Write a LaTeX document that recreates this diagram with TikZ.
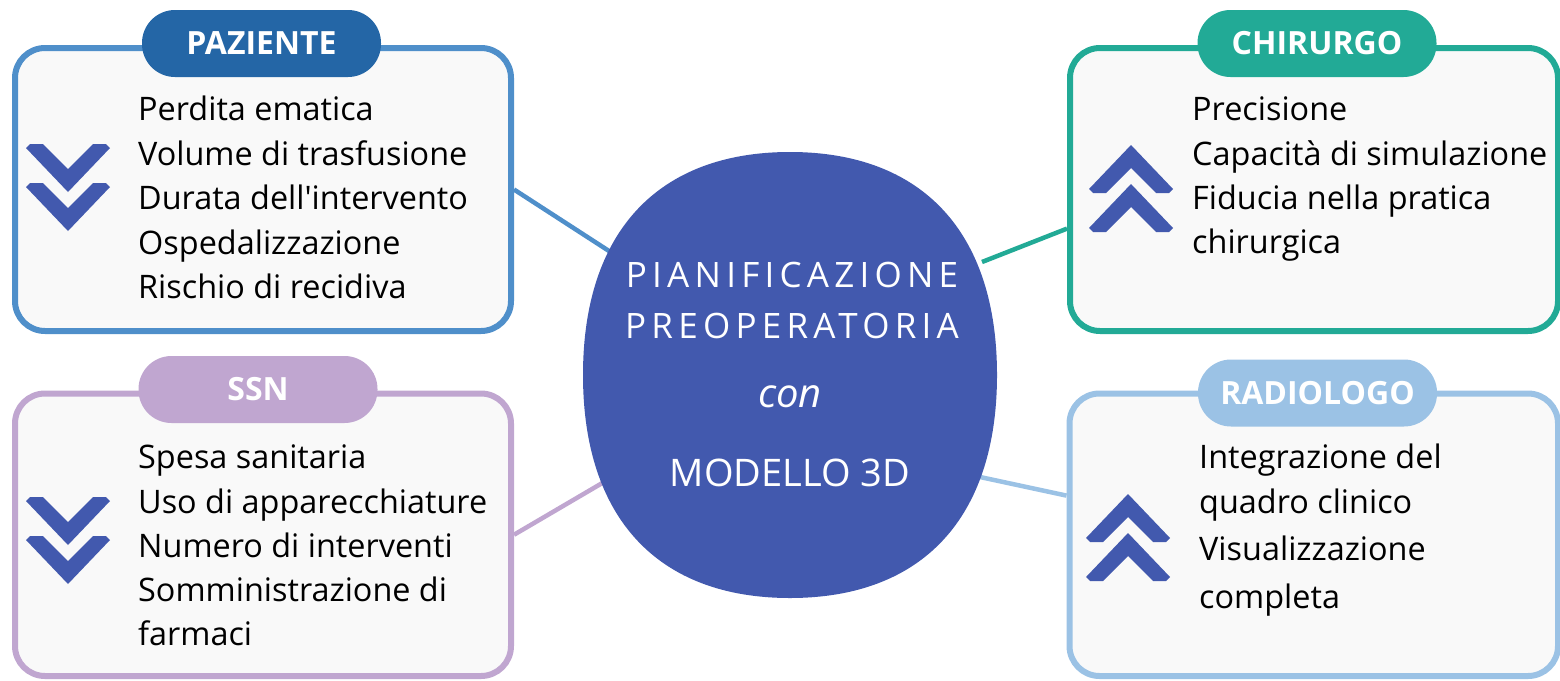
\documentclass[tikz,border=0pt]{standalone}
\usepackage{fontspec}
\setmainfont{Open Sans}
\newfontfamily\spaziata[LetterSpace=15]{Open Sans}
\usetikzlibrary{calc}

\definecolor{pazBordo}{HTML}{4F8FCA}
\definecolor{pazScuro}{HTML}{2466A6}
\definecolor{chirVerde}{HTML}{22AA96}
\definecolor{ssnLilla}{HTML}{C0A6D0}
\definecolor{radAzzurro}{HTML}{9BC2E5}
\definecolor{bluModello}{HTML}{4259AE}
\definecolor{sfondoBox}{HTML}{F9F9F9}

\begin{document}
\begin{tikzpicture}[x=1pt,y=-1pt,
  box/.style={draw=#1, line width=6pt, fill=sfondoBox, rounded corners=30pt, inner sep=0pt},
  tag/.style={fill=#1, text=white, font=\bfseries\fontsize{32}{38}\selectfont,
    minimum width=239pt, minimum height=67pt, rounded corners=33pt, inner sep=0pt},
  voce/.style={anchor=base west, inner sep=0pt, font=\fontsize{32.4}{38}\selectfont},
  filo/.style={draw=#1, line width=4.5pt},
  titolo/.style={anchor=base, inner sep=0pt, text=white},
  doppia/.pic={
    \foreach \d in {0,39}
      \fill[bluModello] (-42,\d+4) -- (-38,\d) -- (-25,\d) -- (0,\d+25) -- (25,\d)
        -- (38,\d) -- (42,\d+4) -- (0,\d+48) -- cycle;
  }]

\useasboundingbox (0,0) rectangle (1560,680);

% riquadri
\node[box=pazBordo, minimum width=496pt, minimum height=283pt] (paziente) at (263,189.5) {};
\node[box=chirVerde, minimum width=488pt, minimum height=283pt] (chirurgo) at (1314,189.5) {};
\node[box=ssnLilla, minimum width=496pt, minimum height=282.5pt] (ssn) at (263,534.75) {};
\node[box=radAzzurro, minimum width=488.5pt, minimum height=282.5pt] (radiologo) at (1313.75,534.75) {};

\node[tag=pazScuro] (pazienteTag) at (261.5,43.5) {PAZIENTE};
\node[tag=chirVerde] (chirurgoTag) at (1317,43.5) {CHIRURGO};
\node[tag=ssnLilla] (ssnTag) at (258,389.5) {SSN};
\node[tag=radAzzurro] (radiologoTag) at (1317.5,393) {RADIOLOGO};

% collegamenti
\coordinate (pazC) at (609,251);
\coordinate (chirC) at (982,262);
\coordinate (ssnC) at (604,482);
\coordinate (radC) at (980,477);
\draw[filo=pazBordo] (paziente.east) -- (pazC);
\draw[filo=chirVerde] (chirurgo.189) -- (chirC);
\draw[filo=ssnLilla] (ssn.east) -- (ssnC);
\draw[filo=radAzzurro] (radiologo.171) -- (radC);

% modello centrale
\coordinate (centro) at (790,375);
\fill[bluModello] (790,152) .. controls (922.5,152) and (997,232.3) .. (997,375)
  .. controls (997,517.7) and (922.5,598) .. (790,598)
  .. controls (657.5,598) and (583,517.7) .. (583,375)
  .. controls (583,232.3) and (657.5,152) .. cycle;

\node[titolo, font=\spaziata\fontsize{35}{40}\selectfont] (titolo1) at (792,287) {PIANIFICAZIONE};
\node[titolo, font=\spaziata\fontsize{35}{40}\selectfont] (titolo2) at (792,338) {PREOPERATORIA};
\node[titolo, font=\itshape\fontsize{40}{46}\selectfont] (con) at (790,407) {con};
\node[titolo, font=\fontsize{38}{44}\selectfont] (modello) at (790,486) {MODELLO 3D};

% frecce
\pic at (68,144) {doppia};
\pic at (68,497) {doppia};
\pic[yscale=-1] at (1131,232) {doppia};
\pic[yscale=-1] at (1128,581) {doppia};

% voci
\foreach \y/\t [count=\i] in {120/Perdita ematica, 165/Volume di trasfusione,
    209/Durata dell\textquotesingle intervento, 254/Ospedalizzazione, 298/Rischio di recidiva}
  \node[voce] (paz\i) at (138,\y) {\t};
\foreach \y/\t [count=\i] in {120/Precisione, 165/Capacità di simulazione,
    209/Fiducia nella pratica, 253/chirurgica}
  \node[voce] (chir\i) at (1192,\y) {\t};
\foreach \y/\t [count=\i] in {468/Spesa sanitaria, 513/Uso di apparecchiature,
    557/Numero di interventi, 601/Somministrazione di, 645/farmaci}
  \node[voce] (ssn\i) at (138,\y) {\t};
\foreach \y/\t [count=\i] in {468/Integrazione del, 513/quadro clinico,
    560/Visualizzazione, 608/completa}
  \node[voce] (rad\i) at (1199,\y) {\t};

\end{tikzpicture}
\end{document}
